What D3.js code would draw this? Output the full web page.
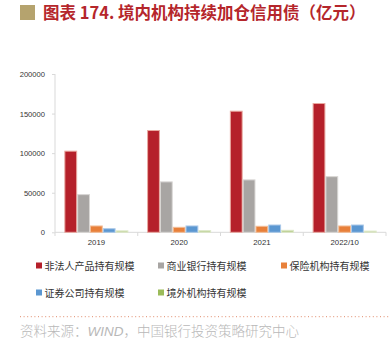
<!DOCTYPE html>
<html><head><meta charset="utf-8">
<script src="https://cdnjs.cloudflare.com/ajax/libs/d3/7.8.5/d3.min.js"></script>
<style>
body{margin:0;background:#fff;}
svg{display:block;font-family:"Noto Sans CJK SC","Noto Sans",sans-serif;}
</style></head>
<body><svg id="c" width="390" height="355"></svg>
<script>
const categories = ["2019","2020","2021","2022/10"];
const seriesNames = ["非法人产品持有规模","商业银行持有规模","保险机构持有规模","证券公司持有规模","境外机构持有规模"];
const s1 = [102500,128600,153000,162700];
const s2 = [47600,63700,66200,70300];
const s3 = [8000,6300,7600,8000];
const s4 = [4500,8000,9200,9200];
const s5 = [1800,2000,2500,1500];
const yTicks = [0,50000,100000,150000,200000];
const seriesValues = [s1,s2,s3,s4,s5];
const fills = ["#B5202A","#A8A5A3","#E8803A","#5B97D1","#B9CF8E"];
const strokes = ["#E9A9A0","#D8D6D4","#F3BE98","#A9C8E8","#DCE7C8"];
const legendFills = ["#B5202A","#A8A5A3","#E8803A","#5B97D1","#9BBB59"];

const svg = d3.select("#c");
// title
svg.append("rect").attr("x",20).attr("y",5).attr("width",15).attr("height",15).attr("fill","#B5A36E");
svg.append("text").attr("x",43).attr("y",19).attr("font-size",16.5).attr("font-weight","bold")
  .attr("fill","#B5262B").text("图表 174. 境内机构持续加仓信用债（亿元）");

const x0 = d3.scaleBand().domain(categories).range([55,386]).paddingInner(0).paddingOuter(0);
const x1 = d3.scaleBand().domain(d3.range(5)).range([0,x0.bandwidth()]).paddingOuter(0.73).paddingInner(0);
const y = d3.scaleLinear().domain([0,200000]).range([232.3,74]);

// y axis
const ya = svg.append("g").attr("transform","translate(55,0)")
  .call(d3.axisLeft(y).tickValues(yTicks).tickSize(3).tickPadding(7).tickFormat(d3.format("d")));
ya.select(".domain").attr("stroke","#D9D9D9").attr("d","M0,74V232.3");
ya.selectAll(".tick line").attr("stroke","#D9D9D9");
ya.selectAll("text").attr("font-size",7.6).attr("fill","#333").attr("font-family","Liberation Sans, Arial, sans-serif");

// x axis
const xa = svg.append("g").attr("transform","translate(0,232.3)")
  .call(d3.axisBottom(x0).tickSize(0).tickPadding(7));
xa.select(".domain").attr("stroke","#D9D9D9").attr("d","M55,0H386");
xa.selectAll("text").attr("font-size",7.8).attr("fill","#333").attr("font-family","Liberation Sans, Arial, sans-serif");
const bounds = categories.map(c=>x0(c)).concat([x0(categories[3])+x0.bandwidth()]);
svg.append("g").selectAll("line").data(bounds).join("line")
  .attr("x1",d=>d).attr("x2",d=>d).attr("y1",232.3).attr("y2",236).attr("stroke","#D9D9D9");

// bars
categories.forEach((c,ci)=>{
  const g = svg.append("g").attr("transform",`translate(${x0(c)},0)`);
  seriesValues.forEach((vals,si)=>{
    g.append("rect").attr("x",x1(si)+0.5).attr("width",x1.bandwidth()-1)
      .attr("y",y(vals[ci])).attr("height",y(0)-y(vals[ci]))
      .attr("fill",fills[si]).attr("stroke",strokes[si]).attr("stroke-width",1);
  });
});

// legend
const lpos = [[36,266],[158,266],[281,266],[36,293],[158,293]];
seriesNames.forEach((n,i)=>{
  const g = svg.append("g").attr("transform",`translate(${lpos[i][0]},${lpos[i][1]})`);
  g.append("rect").attr("x",0).attr("y",-3.5).attr("width",6).attr("height",6).attr("fill",legendFills[i]);
  g.append("text").attr("x",8.5).attr("y",3.8).attr("font-size",10).attr("fill","#333").text(n);
});

// dotted line
svg.append("line").attr("x1",20).attr("x2",390).attr("y1",316.7).attr("y2",316.7)
  .attr("stroke","#E08A6A").attr("stroke-width",1).attr("stroke-dasharray","1,2.6");
svg.append("text").attr("x",20).attr("y",336).attr("font-size",13.5).attr("fill","#B8B8B8")
  .attr("font-weight",300)
  .html('资料来源：<tspan font-style="italic" font-family="Liberation Sans, Arial, sans-serif">WIND</tspan>，中国银行投资策略研究中心');
</script></body></html>
